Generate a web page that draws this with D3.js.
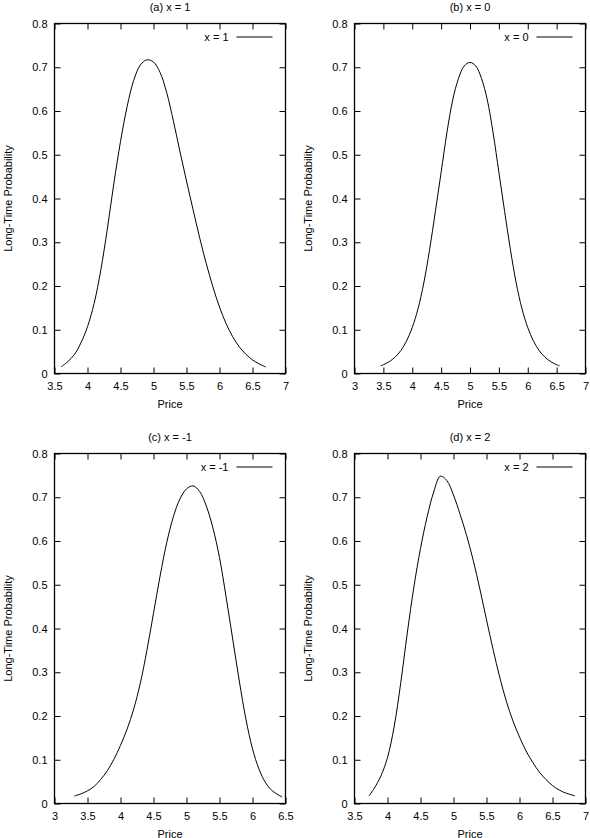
<!DOCTYPE html>
<html>
<head>
<meta charset="utf-8">
<script src="https://cdn.jsdelivr.net/npm/d3@7"></script>
<style>
    body { margin: 0; background: #fff; }
    text { font-family: "Liberation Sans", Arial, sans-serif; font-size: 11px; fill: #000; }
</style>
</head>
<body>
<div class="chart-container"></div>
<script>
// Data.
const titles = ['(a) x = 1', '(b) x = 0', '(c) x = -1', '(d) x = 2'];
const legendNames = ['x = 1', 'x = 0', 'x = -1', 'x = 2'];
const yLabel = 'Long-Time Probability';
const xLabel = 'Price';

const yTicks = [0, 0.1, 0.2, 0.3, 0.4, 0.5, 0.6, 0.7, 0.8];
const xTicksA = [3.5, 4, 4.5, 5, 5.5, 6, 6.5, 7];
const xTicksB = [3, 3.5, 4, 4.5, 5, 5.5, 6, 6.5, 7];
const xTicksC = [3, 3.5, 4, 4.5, 5, 5.5, 6, 6.5];
const xTicksD = [3.5, 4, 4.5, 5, 5.5, 6, 6.5, 7];

const priceA = [3.6, 3.7, 3.8, 3.9, 4.0, 4.1, 4.2, 4.3, 4.4, 4.5, 4.6, 4.7, 4.8, 4.9, 5.0, 5.1, 5.2, 5.3, 5.4, 5.5, 5.6, 5.7, 5.8, 5.9, 6.0, 6.1, 6.2, 6.3, 6.4, 6.5, 6.6, 6.7];
const probA  = [0.015, 0.027, 0.043, 0.07, 0.107, 0.16, 0.235, 0.33, 0.435, 0.53, 0.61, 0.67, 0.705, 0.717, 0.712, 0.688, 0.642, 0.578, 0.508, 0.44, 0.374, 0.31, 0.251, 0.198, 0.152, 0.114, 0.084, 0.061, 0.044, 0.031, 0.022, 0.015];

const priceB = [3.45, 3.5, 3.6, 3.7, 3.8, 3.9, 4.0, 4.1, 4.2, 4.3, 4.4, 4.5, 4.6, 4.7, 4.8, 4.9, 5.0, 5.1, 5.2, 5.3, 5.4, 5.5, 5.6, 5.7, 5.8, 5.9, 6.0, 6.1, 6.2, 6.3, 6.4, 6.5, 6.55];
const probB  = [0.0175, 0.02, 0.027, 0.037, 0.052, 0.074, 0.105, 0.148, 0.207, 0.283, 0.37, 0.46, 0.55, 0.625, 0.674, 0.703, 0.711, 0.703, 0.674, 0.625, 0.55, 0.46, 0.37, 0.283, 0.207, 0.148, 0.105, 0.074, 0.052, 0.037, 0.027, 0.02, 0.0175];

const priceC = [3.3, 3.4, 3.5, 3.6, 3.7, 3.8, 3.9, 4.0, 4.1, 4.2, 4.3, 4.4, 4.5, 4.6, 4.7, 4.8, 4.9, 5.0, 5.1, 5.2, 5.3, 5.4, 5.5, 5.6, 5.7, 5.8, 5.9, 6.0, 6.1, 6.2, 6.3, 6.4, 6.45];
const probC  = [0.017, 0.022, 0.029, 0.039, 0.055, 0.075, 0.101, 0.133, 0.17, 0.216, 0.275, 0.35, 0.435, 0.52, 0.596, 0.655, 0.696, 0.719, 0.726, 0.713, 0.68, 0.63, 0.562, 0.472, 0.376, 0.28, 0.193, 0.125, 0.078, 0.047, 0.029, 0.019, 0.015];

const priceD = [3.72, 3.8, 3.9, 4.0, 4.1, 4.2, 4.3, 4.4, 4.5, 4.6, 4.7, 4.8, 4.9, 5.0, 5.1, 5.2, 5.3, 5.4, 5.5, 5.6, 5.7, 5.8, 5.9, 6.0, 6.1, 6.2, 6.3, 6.4, 6.5, 6.6, 6.7, 6.84];
const probD  = [0.0175, 0.035, 0.063, 0.105, 0.175, 0.275, 0.39, 0.495, 0.583, 0.655, 0.712, 0.748, 0.738, 0.705, 0.661, 0.612, 0.555, 0.49, 0.42, 0.352, 0.289, 0.234, 0.189, 0.152, 0.12, 0.094, 0.072, 0.055, 0.041, 0.031, 0.024, 0.0175];

const svg = d3
    .select('.chart-container')
    .append('svg')
    .attr('width', 590)
    .attr('height', 838);

const panels = [
    {left: 54, top: 23, xTicks: xTicksA, price: priceA, prob: probA},
    {left: 354, top: 23, xTicks: xTicksB, price: priceB, prob: probB},
    {left: 54, top: 453, xTicks: xTicksC, price: priceC, prob: probC},
    {left: 354, top: 453, xTicks: xTicksD, price: priceD, prob: probD}
];

const area = {width: 231, height: 350};

panels.forEach((p, i) => drawPanel(p, i));

function drawPanel(p, i) {
    const g = svg.append('g')
        .attr('transform', `translate(${p.left + 0.5}, ${p.top + 0.5})`)
        .style('color', '#000');

    const xScale = d3.scaleLinear()
        .domain(d3.extent(p.xTicks))
        .range([0, area.width]);
    const yScale = d3.scaleLinear()
        .domain([0, 0.8])
        .range([area.height, 0]);

    // Axes, ticks inward on all four sides
    const bottom = g.append('g')
        .attr('transform', `translate(0, ${area.height})`)
        .call(d3.axisBottom(xScale).tickValues(p.xTicks).tickSize(-6).tickPadding(9).tickFormat(d3.format('')));
    const top = g.append('g')
        .call(d3.axisTop(xScale).tickValues(p.xTicks).tickSize(-6).tickFormat(''));
    const left = g.append('g')
        .call(d3.axisLeft(yScale).tickValues(yTicks).tickSize(-6).tickPadding(7).tickFormat(d3.format('')));
    const right = g.append('g')
        .attr('transform', `translate(${area.width}, 0)`)
        .call(d3.axisRight(yScale).tickValues(yTicks).tickSize(-6).tickFormat(''));

    [bottom, top, left, right].forEach(a => {
        a.select('.domain').remove();
        a.attr('font-family', null).attr('font-size', null);
        a.selectAll('line').attr('stroke-width', 1);
    });

    g.append('rect')
        .attr('width', area.width)
        .attr('height', area.height)
        .attr('fill', 'none')
        .attr('stroke', '#000')
        .attr('stroke-width', 1.3);

    // Curve
    const points = p.price.map((x, k) => [x, p.prob[k]]);
    const line = d3.line()
        .x(d => xScale(d[0]))
        .y(d => yScale(d[1]))
        .curve(d3.curveCatmullRom.alpha(0.5));

    g.append('path')
        .datum(points)
        .attr('d', line)
        .attr('fill', 'none')
        .attr('stroke', '#000')
        .attr('stroke-width', 1);

    // Legend
    g.append('text')
        .attr('x', area.width - 57)
        .attr('y', 13.5)
        .attr('dy', '0.35em')
        .attr('text-anchor', 'end')
        .text(legendNames[i]);
    g.append('line')
        .attr('x1', area.width - 49)
        .attr('x2', area.width - 13)
        .attr('y1', 13.5)
        .attr('y2', 13.5)
        .attr('stroke', '#000');

    // Title and axis labels
    g.append('text')
        .attr('x', area.width / 2)
        .attr('y', -13)
        .attr('text-anchor', 'middle')
        .text(titles[i]);
    g.append('text')
        .attr('x', area.width / 2)
        .attr('y', area.height + 34)
        .attr('text-anchor', 'middle')
        .text(xLabel);
    g.append('text')
        .attr('transform', `translate(-46, ${area.height / 2}) rotate(-90)`)
        .attr('dy', '0.35em')
        .attr('text-anchor', 'middle')
        .text(yLabel);
}
</script>
</body>
</html>
